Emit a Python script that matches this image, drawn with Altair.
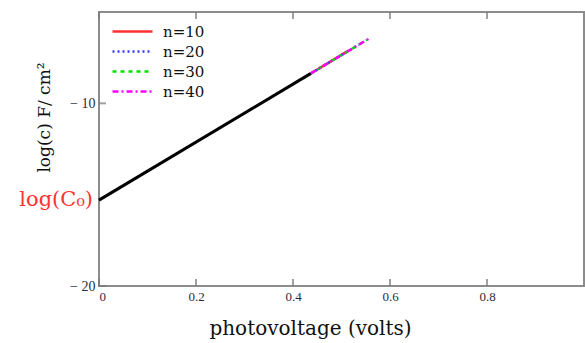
import altair as alt
import pandas as pd

# series endpoints
black_x = [0.0, 0.437]
black_y = [-15.3, -8.36]

series_names = ["n=10", "n=20", "n=30", "n=40"]
series_x = [[0.437, 0.515], [0.437, 0.535], [0.437, 0.552], [0.437, 0.556]]
series_y = [[-8.36, -7.10], [-8.36, -6.80], [-8.36, -6.53], [-8.36, -6.47]]
series_colors = ["#ff3030", "#3a3aff", "#00e000", "#ff00ff"]
series_dash = [[1, 0], [2, 3], [4, 4], [6, 3, 2, 3]]

x_ticks = [0, 0.2, 0.4, 0.6, 0.8]
y_ticks = [-20, -10]
c0_label = "log(C₀)"

black_df = pd.DataFrame({"x": black_x, "y": black_y})
rows = []
for i, name in enumerate(series_names):
    for xv, yv in zip(series_x[i], series_y[i]):
        rows.append({"series": name, "x": xv, "y": yv, "order": i})
ser_df = pd.DataFrame(rows)

xs = alt.Scale(domain=[0, 1], nice=False, zero=False)
ys = alt.Scale(domain=[-20, -5], nice=False, zero=False)

serif = "Liberation Serif"
wide = "DejaVu Serif"

base_x = alt.X("x:Q", scale=xs, axis=alt.Axis(
    values=x_ticks, tickSize=0, domain=False, grid=False, labelFont=serif,
    labelFontSize=13, labelColor="#2b2b3b", labelPadding=4, format="~g",
    title="photovoltage (volts)", titleFont=wide, titleFontSize=20,
    titleFontWeight="normal", titleColor="#111111", titleX=211, titleY=42,
    titleBaseline="middle"))
base_y = alt.Y("y:Q", scale=ys, axis=alt.Axis(
    values=y_ticks, tickSize=0, domain=False, grid=False, labelFont=serif,
    labelFontSize=14, labelColor="#2b2b3b", labelPadding=4,
    labelExpr="'− ' + abs(datum.value)",
    title="log(c) F/ cm²", titleFont=wide, titleFontSize=17,
    titleFontWeight="normal", titleColor="#111111", titleX=-55, titleY=105,
    titleAngle=-90, titleBaseline="middle", titleAlign="center"))

black_line = alt.Chart(black_df).mark_line(color="black", strokeWidth=3).encode(
    x=base_x, y=base_y)

colored = alt.Chart(ser_df).mark_line(strokeWidth=2.5).encode(
    x="x:Q", y="y:Q",
    color=alt.Color("series:N", scale=alt.Scale(domain=series_names, range=series_colors),
                    legend=alt.Legend(title=None, orient="none", legendX=22, legendY=8,
                                      symbolType="M-2,0H2", symbolSize=400,
                                      symbolStrokeWidth=2.5, labelFont=wide,
                                      labelFontSize=15, labelColor="#111111",
                                      rowPadding=0, labelOffset=19)),
    strokeDash=alt.StrokeDash("series:N", scale=alt.Scale(domain=series_names, range=series_dash),
                              legend=None),
    order="order:Q")

tick_df = pd.DataFrame({"x": x_ticks})
xtick_bottom = alt.Chart(tick_df).mark_tick(color="#777777", thickness=2, size=7, yOffset=-3.5).encode(
    x="x:Q", y=alt.datum(-20))
xtick_top = alt.Chart(tick_df).mark_tick(color="#777777", thickness=2, size=7, yOffset=3.5).encode(
    x="x:Q", y=alt.datum(-5))
ytick_df = pd.DataFrame({"y": y_ticks})
ytick_left = alt.Chart(ytick_df).mark_tick(color="#777777", thickness=2, size=7, xOffset=3.5, orient="horizontal").encode(
    y="y:Q", x=alt.datum(0))

label_df = pd.DataFrame({"x": [black_x[0]], "y": [black_y[0]], "t": [c0_label]})
c0 = alt.Chart(label_df).mark_text(align="right", baseline="middle", dx=-6, font=wide,
                                   fontSize=21, color="#ff3333").encode(
    x="x:Q", y="y:Q", text="t:N")

chart = alt.layer(black_line, colored, xtick_bottom, xtick_top, ytick_left, c0).properties(
    width=485, height=274, autosize=alt.AutoSizeParams(type="none"),
    padding={"left": 99, "top": 12, "right": 1, "bottom": 57},
    background="white"
).configure_view(stroke="#8c8c8c", strokeWidth=2)

chart.save("out.html", embed_options={"renderer": "svg", "actions": False})
